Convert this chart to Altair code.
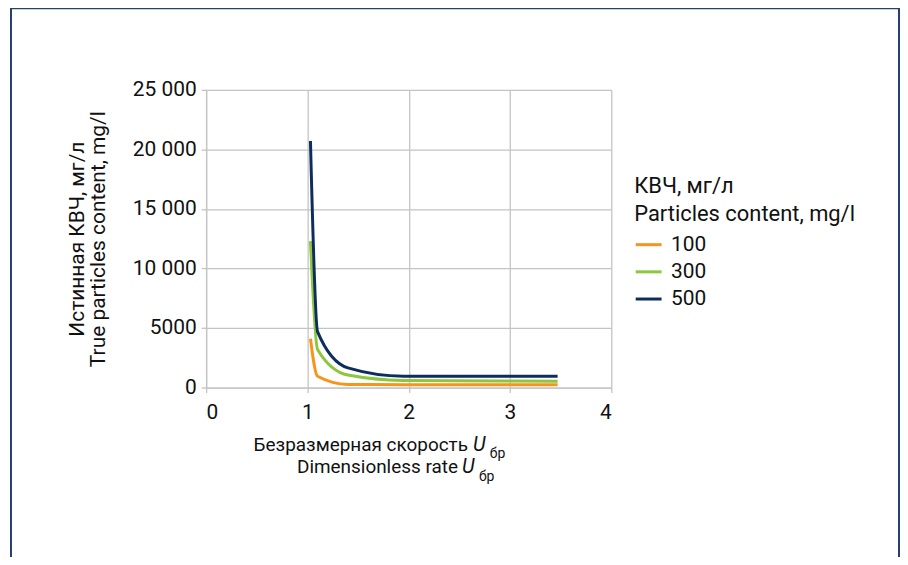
import altair as alt
import pandas as pd

# ---- data ----
x_vals = [1.03, 1.1, 1.4, 1.95, 3.47]
kvch_100 = [4100, 950, 260, 240, 240]
kvch_300 = [12300, 3200, 1050, 600, 530]
kvch_500 = [20700, 4700, 1650, 950, 950]
series_names = ["100", "300", "500"]
series_colors = ["#f7941d", "#8dc63f", "#0c2d5e"]
x_ticks = [0, 1, 2, 3, 4]
y_ticks = [0, 5000, 10000, 15000, 20000, 25000]

FONT = "Roboto"
TXT = "#111111"
GRID = "#c4c4c4"

rows = []
for name, vals in zip(series_names, [kvch_100, kvch_300, kvch_500]):
    for xv, yv in zip(x_vals, vals):
        rows.append({"x": xv, "y": yv, "series": name})
df = pd.DataFrame(rows)
one = pd.DataFrame({"k": [0]})

lines = alt.Chart(df).mark_line(strokeWidth=3, interpolate="monotone").encode(
    x=alt.X("x:Q", scale=alt.Scale(domain=[0, 4], nice=False),
            axis=alt.Axis(values=x_ticks, title=None, labelPadding=9, format="d")),
    y=alt.Y("y:Q", scale=alt.Scale(domain=[0, 25000], nice=False),
            axis=alt.Axis(values=y_ticks, title=None, labelPadding=5,
                          labelExpr="datum.value >= 10000 ? replace(format(datum.value, ','), ',', ' ') : format(datum.value, 'd')")),
    color=alt.Color("series:N", scale=alt.Scale(domain=series_names, range=series_colors),
                    legend=alt.Legend(title=["КВЧ, мг/л", "Particles content, mg/l"],
                                      orient="none", legendX=430, legendY=87,
                                      titleFont=FONT, titleFontSize=22, titleFontWeight="normal",
                                      titleColor=TXT, titleLineHeight=28, titlePadding=4,
                                      titleLimit=500, labelLimit=200,
                                      labelFont=FONT, labelFontSize=21, labelColor=TXT, labelOffset=8,
                                      symbolType="stroke", symbolSize=676, symbolStrokeWidth=3,
                                      rowPadding=2.3, padding=0)),
)


def txt(text, x, y, size, angle=0, align="left", style="normal"):
    return alt.Chart(one).mark_text(
        text=text, align=align, baseline="alphabetic", fontSize=size, font=FONT,
        fontStyle=style, angle=angle, color=TXT
    ).encode(x=alt.value(x), y=alt.value(y))


frame = alt.Chart(one).mark_rect(fillOpacity=0, stroke="#24406c", strokeWidth=2).encode(
    x=alt.value(-196), x2=alt.value(696), y=alt.value(-82), y2=alt.value(480)
)

texts = [
    txt("Безразмерная скорость", 263, 363, 19, align="right"),
    txt("U", 268, 363, 20, style="italic"),
    txt("бр", 285, 370, 14),
    txt("Dimensionless rate", 253, 385, 19, align="right"),
    txt("U", 257, 385, 20, style="italic"),
    txt("бр", 274, 393, 14),
    txt("Истинная КВЧ, мг/л", -123, 150, 21, angle=270, align="center"),
    txt("True particles content, mg/l", -102, 150, 21, angle=270, align="center"),
]

chart = alt.layer(frame, lines, *texts).properties(
    width=407, height=299,
    autosize=alt.AutoSizeParams(type="none"),
    padding={"left": 199, "top": 81, "right": 290, "bottom": 169},
    background="white",
).configure_view(strokeWidth=0).configure_axis(
    gridColor=GRID, gridWidth=1.3, domainColor=GRID, domainWidth=1.3,
    tickColor=GRID, tickWidth=1.3, tickSize=5,
    labelFont=FONT, labelFontSize=21, labelColor=TXT,
)

chart.save("out.html", embed_options={"renderer": "svg", "actions": False})
